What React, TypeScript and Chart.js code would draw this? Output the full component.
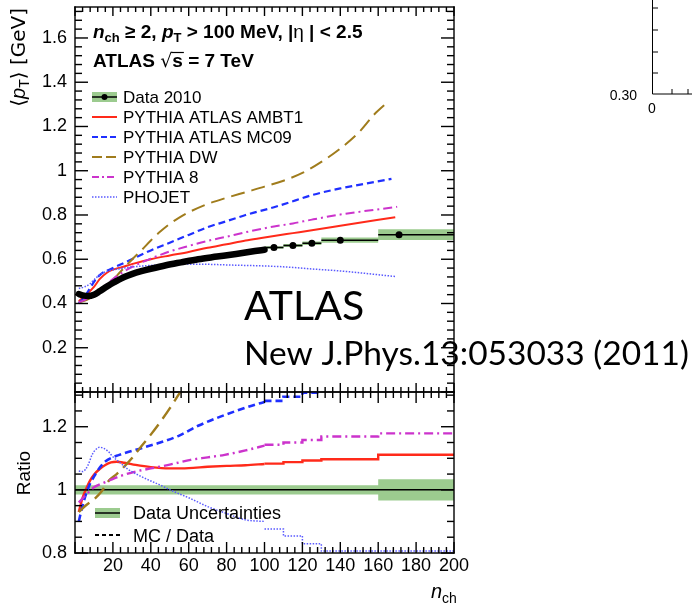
import React, { useEffect, useRef } from 'react';
import { Chart, registerables } from 'chart.js';
Chart.register(...registerables);

const F = '"Liberation Sans", Arial, Helvetica, "DejaVu Sans", sans-serif';

// ---------- axis ranges ----------
const X_MIN = 0;
const X_MAX = 200;
const TOP_Y_MIN = 0;
const TOP_Y_MAX = 1.74;
const RATIO_Y_MIN = 0.8;
const RATIO_Y_MAX = 1.31;

// ---------- Data 2010 ----------
const dataDenseN = [2, 4, 7, 10, 13, 16, 19, 22, 26, 30, 35, 40, 48, 56, 65, 75, 85, 95, 100];
const dataDenseV = [0.443, 0.437, 0.434, 0.44, 0.455, 0.472, 0.488, 0.502, 0.52, 0.533, 0.546, 0.557, 0.573, 0.586, 0.6, 0.612, 0.624, 0.637, 0.643];
const binEdges = [100, 110, 120, 130, 160, 200];
const dataBinN = [105, 115, 125, 140, 171];
const dataBinV = [0.653, 0.662, 0.672, 0.686, 0.711];
const dataBinErr = [0.006, 0.007, 0.008, 0.012, 0.024];

// ---------- MC predictions (top panel) ----------
const ambt1N = [2, 6, 10, 13, 17, 20, 25, 30, 40, 50, 60, 70, 80, 90, 100, 105, 115, 125, 140, 169];
const ambt1V = [0.41, 0.44, 0.475, 0.51, 0.54, 0.553, 0.565, 0.578, 0.6, 0.617, 0.633, 0.652, 0.668, 0.685, 0.698, 0.705, 0.718, 0.731, 0.751, 0.79];
const mc09N = [2, 5, 8, 11, 14, 20, 30, 40, 50, 60, 70, 80, 90, 105, 115, 125, 140, 167];
const mc09V = [0.4, 0.43, 0.47, 0.51, 0.535, 0.56, 0.6, 0.64, 0.675, 0.71, 0.745, 0.772, 0.8, 0.835, 0.862, 0.89, 0.92, 0.963];
const dwN = [2, 6, 10, 14, 18, 22, 26, 30, 35, 40, 45, 50, 55, 60, 70, 80, 90, 100, 110, 120, 130, 140, 150, 158, 165];
const dwV = [0.405, 0.415, 0.435, 0.46, 0.49, 0.525, 0.562, 0.598, 0.64, 0.685, 0.725, 0.76, 0.788, 0.812, 0.85, 0.878, 0.903, 0.928, 0.955, 0.99, 1.04, 1.1, 1.175, 1.255, 1.31];
const py8N = [2, 6, 10, 15, 20, 25, 30, 40, 50, 60, 70, 80, 90, 100, 105, 115, 125, 140, 170];
const py8V = [0.405, 0.42, 0.44, 0.475, 0.51, 0.54, 0.565, 0.603, 0.635, 0.66, 0.683, 0.702, 0.722, 0.74, 0.748, 0.762, 0.779, 0.802, 0.837];
const phojetN = [2, 5, 8, 11, 14, 18, 23, 30, 40, 55, 70, 85, 95, 105, 115, 125, 140, 169];
const phojetV = [0.468, 0.475, 0.49, 0.515, 0.535, 0.548, 0.556, 0.565, 0.572, 0.578, 0.577, 0.573, 0.571, 0.568, 0.563, 0.556, 0.547, 0.522];

// ---------- MC / Data ratios (bottom panel) ----------
const rAmbt1N = [2, 4, 6, 8, 10, 13, 16, 19, 22, 26, 32, 40, 50, 60, 70, 80, 90, 100];
const rAmbt1R = [0.93, 0.975, 1.005, 1.03, 1.048, 1.066, 1.079, 1.087, 1.089, 1.086, 1.079, 1.072, 1.068, 1.069, 1.073, 1.076, 1.078, 1.082];
const rAmbt1Bins = [1.083, 1.088, 1.093, 1.097, 1.111];
const rMc09N = [2, 4, 6, 8, 10, 13, 16, 19, 23, 28, 35, 45, 55, 65, 75, 85, 95, 100];
const rMc09R = [0.9, 0.95, 0.99, 1.02, 1.042, 1.07, 1.09, 1.101, 1.11, 1.12, 1.132, 1.15, 1.172, 1.203, 1.228, 1.25, 1.27, 1.278];
const rMc09Bins = [1.282, 1.295, 1.308];
const rDwN = [2, 6, 10, 14, 18, 22, 26, 30, 35, 40, 45, 50, 55, 58];
const rDwR = [0.93, 0.952, 0.97, 0.995, 1.03, 1.05, 1.074, 1.1, 1.138, 1.175, 1.215, 1.258, 1.305, 1.335];
const rPy8N = [2, 6, 10, 15, 21, 26, 32, 40, 50, 61, 70, 79, 90, 100];
const rPy8R = [0.96, 0.985, 1.008, 1.022, 1.037, 1.048, 1.058, 1.068, 1.08, 1.095, 1.103, 1.111, 1.125, 1.14];
const rPy8Bins = [1.143, 1.15, 1.158, 1.169, 1.179];
const rPhojetN = [2, 4, 7, 9, 11, 13, 15, 17.5, 20, 23, 28, 35, 45, 52, 60, 70, 80, 90, 100];
const rPhojetR = [1.06, 1.058, 1.08, 1.111, 1.128, 1.135, 1.132, 1.122, 1.105, 1.09, 1.065, 1.042, 1.015, 0.995, 0.975, 0.947, 0.925, 0.905, 0.9];
const rPhojetBins = [0.876, 0.854, 0.829, 0.806, 0.806];
const ratioBandEdges = [0, 160, 200];
const ratioBandErr = [0.015, 0.034];

// ---------- styles ----------
const GREEN = '#9ccb8f';
const S = {
  ambt1: { color: '#ff2a1a', dash: [] as number[], width: 2 },
  mc09: { color: '#1f2fff', dash: [7, 4], width: 2.2 },
  dw: { color: '#a07c1c', dash: [14, 7], width: 2 },
  py8: { color: '#cc33cc', dash: [9, 4, 2, 4], width: 2 },
  phojet: { color: '#5a5aff', dash: [1.5, 1.5], width: 1.5 },
};

const pts = (xs: number[], ys: number[]) => xs.map((x, i) => ({ x, y: ys[i] }));
const steps = (edges: number[], vals: number[]) => {
  const out: { x: number; y: number }[] = [];
  vals.forEach((v, i) => {
    out.push({ x: edges[i], y: v });
    out.push({ x: edges[i + 1], y: v });
  });
  return out;
};
const line = (data: any[], st: any, extra: any = {}) => ({
  type: 'line',
  data,
  borderColor: st.color,
  borderDash: st.dash,
  borderWidth: st.width,
  pointRadius: 0,
  fill: false,
  cubicInterpolationMode: 'monotone',
  order: 5,
  ...extra,
});

type Run = { t: string; f: string; dy?: number };
function runs(ctx: CanvasRenderingContext2D, x: number, y: number, rs: Run[]) {
  let cx = x;
  for (const r of rs) {
    ctx.font = r.f;
    ctx.fillText(r.t, cx, y + (r.dy || 0));
    cx += ctx.measureText(r.t).width;
  }
  return cx;
}
function runsWidth(ctx: CanvasRenderingContext2D, rs: Run[]) {
  let w = 0;
  for (const r of rs) {
    ctx.font = r.f;
    w += ctx.measureText(r.t).width;
  }
  return w;
}

function drawFrame(chart: any, o: any) {
  const ctx: CanvasRenderingContext2D = chart.ctx;
  const a = chart.chartArea;
  const xs = chart.scales.x;
  const ys = chart.scales.y;
  const L0 = a.left, R0 = a.right, T0 = a.top, B0 = a.bottom;
  ctx.save();
  ctx.setLineDash([]);
  ctx.fillStyle = '#000';
  const lw = 1.4;
  // frame
  ctx.fillRect(L0 - lw / 2, T0 - lw / 2, R0 - L0 + lw, lw);
  ctx.fillRect(L0 - lw / 2, B0 - lw / 2, R0 - L0 + lw, lw);
  ctx.fillRect(L0 - lw / 2, T0 - lw / 2, lw, B0 - T0 + lw);
  ctx.fillRect(R0 - lw / 2, T0 - lw / 2, lw, B0 - T0 + lw);
  // x ticks (minor every 4, major every 20)
  const nx = Math.round((X_MAX - X_MIN) / 4);
  for (let k = 0; k <= nx; k++) {
    const px = Number(xs.getPixelForValue(X_MIN + k * 4));
    const len = k % 5 === 0 ? o.xMaj : o.xMin;
    ctx.fillRect(px - lw / 2, B0 - len, lw, len);
    ctx.fillRect(px - lw / 2, T0, lw, len);
  }
  // y ticks
  const ny = Math.floor((o.yEnd - o.yStart) / o.yStep + 1e-6);
  for (let k = 0; k <= ny; k++) {
    const py = Number(ys.getPixelForValue(o.yStart + k * o.yStep));
    const len = k % o.yMajEvery === 0 ? o.yMaj : o.yMin;
    ctx.fillRect(L0, py - lw / 2, len, lw);
    ctx.fillRect(R0 - len, py - lw / 2, len, lw);
  }
  ctx.restore();
}

function sample(ctx: CanvasRenderingContext2D, x0: number, x1: number, y: number, st: any) {
  ctx.save();
  ctx.strokeStyle = st.color;
  ctx.lineWidth = st.width;
  ctx.setLineDash(st.dash);
  ctx.beginPath();
  ctx.moveTo(x0, y);
  ctx.lineTo(x1, y);
  ctx.stroke();
  ctx.restore();
}

const topPlugin = {
  id: 'topDecor',
  afterDraw(chart: any) {
    const ctx: CanvasRenderingContext2D = chart.ctx;
    drawFrame(chart, { xMaj: 9, xMin: 5, yStart: 0, yEnd: TOP_Y_MAX, yStep: 0.04, yMajEvery: 5, yMaj: 13, yMin: 7 });
    ctx.save();
    ctx.setLineDash([]);
    ctx.fillStyle = '#000';
    ctx.textBaseline = 'alphabetic';
    ctx.textAlign = 'left';
    // header
    runs(ctx, 93, 38, [
      { t: 'n', f: `italic bold 19px ${F}` },
      { t: 'ch', f: `bold 13px ${F}`, dy: 4 },
      { t: ' \u2265 2, ', f: `bold 19px ${F}` },
      { t: 'p', f: `italic bold 19px ${F}` },
      { t: 'T', f: `bold 13px ${F}`, dy: 4 },
      { t: ' > 100 MeV, |', f: `bold 19px ${F}` },
      { t: '\u03b7', f: `19px ${F}` },
      { t: ' | < 2.5', f: `bold 19px ${F}` },
    ]);
    const xs = runs(ctx, 93, 67, [{ t: 'ATLAS ', f: `bold 19px ${F}` }, { t: '\u221a', f: `19px "DejaVu Sans", ${F}` }]);
    ctx.font = `bold 19px ${F}`;
    const sw = ctx.measureText('s').width;
    ctx.fillText('s', xs, 67);
    ctx.fillText(' = 7 TeV', xs + sw, 67);
    ctx.lineWidth = 1.2;
    ctx.strokeStyle = '#000';
    ctx.beginPath();
    ctx.moveTo(xs - 1, 52.5);
    ctx.lineTo(xs + sw + 1, 52.5);
    ctx.stroke();

    // legend
    const lx0 = 92, lx1 = 117, tx = 123;
    const legend: [string, any][] = [
      ['Data 2010', null],
      ['PYTHIA ATLAS AMBT1', S.ambt1],
      ['PYTHIA ATLAS MC09', { ...S.mc09, dash: [6, 3] }],
      ['PYTHIA DW', { ...S.dw, dash: [10, 4] }],
      ['PYTHIA 8', { ...S.py8, dash: [7, 3, 2, 3] }],
      ['PHOJET', S.phojet],
    ];
    ctx.textBaseline = 'middle';
    legend.forEach(([lab, st], i) => {
      const y = 97 + i * 20;
      if (!st) {
        ctx.fillStyle = GREEN;
        ctx.fillRect(lx0, y - 5, lx1 - lx0, 10);
        sample(ctx, lx0, lx1, y, { color: '#000', width: 1.5, dash: [] });
        ctx.fillStyle = '#000';
        ctx.beginPath();
        ctx.arc((lx0 + lx1) / 2, y, 3, 0, Math.PI * 2);
        ctx.fill();
      } else {
        sample(ctx, lx0, lx1, y, st);
      }
      ctx.fillStyle = '#000';
      ctx.font = `17px ${F}`;
      ctx.fillText(lab, tx, y + 1);
    });

    // y-axis title
    ctx.textBaseline = 'alphabetic';
    const tr: Run[] = [
      { t: '\u27e8', f: `20px "DejaVu Sans", ${F}` },
      { t: 'p', f: `italic 20px ${F}` },
      { t: 'T', f: `14px ${F}`, dy: 4 },
      { t: '\u27e9 [GeV]', f: `20px "DejaVu Sans", ${F}` },
    ];
    const W = runsWidth(ctx, tr);
    ctx.save();
    ctx.translate(25, 8);
    ctx.rotate(-Math.PI / 2);
    runs(ctx, -W, 0, tr);
    ctx.restore();

    // overlay annotation
    ctx.font = `41px Lato, "Open Sans", sans-serif`;
    ctx.fillText('ATLAS', 244, 320);
    ctx.font = `33.5px Lato, "Open Sans", sans-serif`;
    ctx.fillText('New J.Phys.13:053033 (2011)', 244, 365);

    // fragment of a neighbouring plot
    ctx.strokeStyle = '#000';
    ctx.lineWidth = 1;
    ctx.beginPath();
    ctx.moveTo(652.5, 0);
    ctx.lineTo(652.5, 94);
    ctx.lineTo(692, 94);
    [8, 30, 52, 73].forEach((y) => {
      ctx.moveTo(652.5, y);
      ctx.lineTo(658, y);
    });
    [672, 688].forEach((x) => {
      ctx.moveTo(x, 94);
      ctx.lineTo(x, 89);
    });
    ctx.stroke();
    ctx.font = `14px ${F}`;
    ctx.textAlign = 'right';
    ctx.fillText('0.30', 637, 100);
    ctx.textAlign = 'center';
    ctx.fillText('0', 652, 113);
    ctx.restore();
  },
};

const botPlugin = {
  id: 'botDecor',
  afterDraw(chart: any) {
    const ctx: CanvasRenderingContext2D = chart.ctx;
    drawFrame(chart, { xMaj: 11, xMin: 6, yStart: RATIO_Y_MIN, yEnd: RATIO_Y_MAX, yStep: 0.05, yMajEvery: 4, yMaj: 13, yMin: 7 });
    ctx.save();
    ctx.setLineDash([]);
    // legend
    ctx.fillStyle = GREEN;
    ctx.fillRect(95, 508, 25, 10);
    sample(ctx, 95, 120, 513, { color: '#000', width: 1.5, dash: [] });
    sample(ctx, 95, 122, 535, { color: '#000', width: 2, dash: [4, 3] });
    ctx.fillStyle = '#000';
    ctx.textBaseline = 'middle';
    ctx.font = `18px ${F}`;
    ctx.fillText('Data Uncertainties', 133, 514);
    ctx.fillText('MC / Data', 133, 537);
    // y title
    ctx.textBaseline = 'alphabetic';
    ctx.save();
    ctx.translate(30, 473);
    ctx.rotate(-Math.PI / 2);
    ctx.textAlign = 'center';
    ctx.font = `19px ${F}`;
    ctx.fillText('Ratio', 0, 0);
    ctx.restore();
    // x title
    ctx.textAlign = 'left';
    runs(ctx, 431, 598, [
      { t: 'n', f: `italic 20px ${F}` },
      { t: 'ch', f: `14px ${F}`, dy: 5 },
    ]);
    ctx.restore();
  },
};

const fmt = (v: any) => {
  const n = Number(v);
  if (Math.abs(n) < 1e-9) return '';
  return String(+n.toFixed(2));
};

const fixY = (s: any) => {
  s.width = 75;
  s.paddingTop = 0;
  s.paddingBottom = 0;
};
const fixX = (s: any) => {
  s.height = 52;
  s.paddingLeft = 0;
  s.paddingRight = 0;
};

function topConfig(): any {
  const bandHi = steps(binEdges, dataBinV.map((v, i) => v + dataBinErr[i]));
  const bandLo = steps(binEdges, dataBinV.map((v, i) => v - dataBinErr[i]));
  const bars: any[] = [];
  dataBinV.forEach((v, i) => {
    bars.push({ x: binEdges[i], y: v }, { x: binEdges[i + 1], y: v }, { x: binEdges[i + 1], y: null });
  });
  return {
    type: 'line',
    data: {
      datasets: [
        { data: bandHi, borderWidth: 0, pointRadius: 0, fill: '+1', backgroundColor: GREEN, order: 10, tension: 0 },
        { data: bandLo, borderWidth: 0, pointRadius: 0, fill: false, order: 10, tension: 0 },
        line(pts(phojetN, phojetV), S.phojet),
        line(pts(py8N, py8V), S.py8),
        line(pts(dwN, dwV), S.dw),
        line(pts(mc09N, mc09V), S.mc09),
        line(pts(ambt1N, ambt1V), S.ambt1),
        line(pts(dataDenseN, dataDenseV), { color: '#000', dash: [], width: 6.5 }, { order: 1, borderCapStyle: 'round' }),
        { data: bars, borderColor: '#000', borderWidth: 1.5, pointRadius: 0, spanGaps: false, fill: false, order: 0, tension: 0 },
        { data: pts(dataBinN, dataBinV), showLine: false, pointRadius: 3.5, pointBackgroundColor: '#000', pointBorderWidth: 0, order: 0 },
      ],
    },
    options: {
      responsive: false,
      animation: false,
      events: [],
      layout: { padding: { left: 0, top: 7, right: 238, bottom: 213 } },
      plugins: { legend: { display: false }, tooltip: { enabled: false } },
      scales: {
        x: { type: 'linear', min: X_MIN, max: X_MAX, display: false },
        y: {
          type: 'linear',
          min: TOP_Y_MIN,
          max: TOP_Y_MAX,
          grid: { display: false, drawTicks: false },
          border: { display: false },
          ticks: { stepSize: 0.2, includeBounds: false, padding: 8, color: '#000', font: { family: F, size: 18 }, callback: fmt },
          afterFit: fixY,
        },
      },
    },
    plugins: [topPlugin],
  };
}

function botConfig(): any {
  const bandHi = steps(ratioBandEdges, ratioBandErr.map((e) => 1 + e));
  const bandLo = steps(ratioBandEdges, ratioBandErr.map((e) => 1 - e));
  const stepLine = (vals: number[], st: any) =>
    line(steps(binEdges.slice(0, vals.length + 1), vals), st, { cubicInterpolationMode: 'default', tension: 0 });
  return {
    type: 'line',
    data: {
      datasets: [
        { data: bandHi, borderWidth: 0, pointRadius: 0, fill: '+1', backgroundColor: GREEN, order: 10, tension: 0 },
        { data: bandLo, borderWidth: 0, pointRadius: 0, fill: false, order: 10, tension: 0 },
        { data: [{ x: X_MIN, y: 1 }, { x: X_MAX, y: 1 }], borderColor: '#000', borderWidth: 1.5, pointRadius: 0, order: 9 },
        line(pts(rPhojetN, rPhojetR), S.phojet),
        stepLine(rPhojetBins, S.phojet),
        line(pts(rPy8N, rPy8R), { ...S.py8, width: 2.4 }),
        stepLine(rPy8Bins, { ...S.py8, width: 2.4 }),
        line(pts(rDwN, rDwR), { ...S.dw, width: 2.4 }),
        line(pts(rMc09N, rMc09R), { ...S.mc09, width: 2.6 }),
        stepLine(rMc09Bins, { ...S.mc09, width: 2.6 }),
        line(pts(rAmbt1N, rAmbt1R), { ...S.ambt1, width: 2.4 }),
        stepLine(rAmbt1Bins, { ...S.ambt1, width: 2.4 }),
      ],
    },
    options: {
      responsive: false,
      animation: false,
      events: [],
      layout: { padding: { left: 0, top: 392, right: 238, bottom: 0 } },
      plugins: { legend: { display: false }, tooltip: { enabled: false } },
      scales: {
        x: {
          type: 'linear',
          min: X_MIN,
          max: X_MAX,
          grid: { display: false, drawTicks: false },
          border: { display: false },
          ticks: { stepSize: 20, includeBounds: false, padding: 2, maxRotation: 0, autoSkip: false, color: '#000', font: { family: F, size: 18 }, callback: fmt },
          afterFit: fixX,
        },
        y: {
          type: 'linear',
          min: RATIO_Y_MIN,
          max: RATIO_Y_MAX,
          grid: { display: false, drawTicks: false },
          border: { display: false },
          ticks: { stepSize: 0.2, includeBounds: false, padding: 8, color: '#000', font: { family: F, size: 18 }, callback: fmt },
          afterFit: fixY,
        },
      },
    },
    plugins: [botPlugin],
  };
}

export default function App() {
  const topRef = useRef<HTMLCanvasElement>(null);
  const botRef = useRef<HTMLCanvasElement>(null);
  useEffect(() => {
    const top = new Chart(topRef.current as HTMLCanvasElement, topConfig());
    const bot = new Chart(botRef.current as HTMLCanvasElement, botConfig());
    return () => {
      top.destroy();
      bot.destroy();
    };
  }, []);
  return (
    <div style={{ position: 'absolute', left: 0, top: 0, width: 692, height: 605, background: '#fff' }}>
      <canvas ref={topRef} width={692} height={605} style={{ position: 'absolute', left: 0, top: 0 }} />
      <canvas ref={botRef} width={692} height={605} style={{ position: 'absolute', left: 0, top: 0 }} />
    </div>
  );
}
